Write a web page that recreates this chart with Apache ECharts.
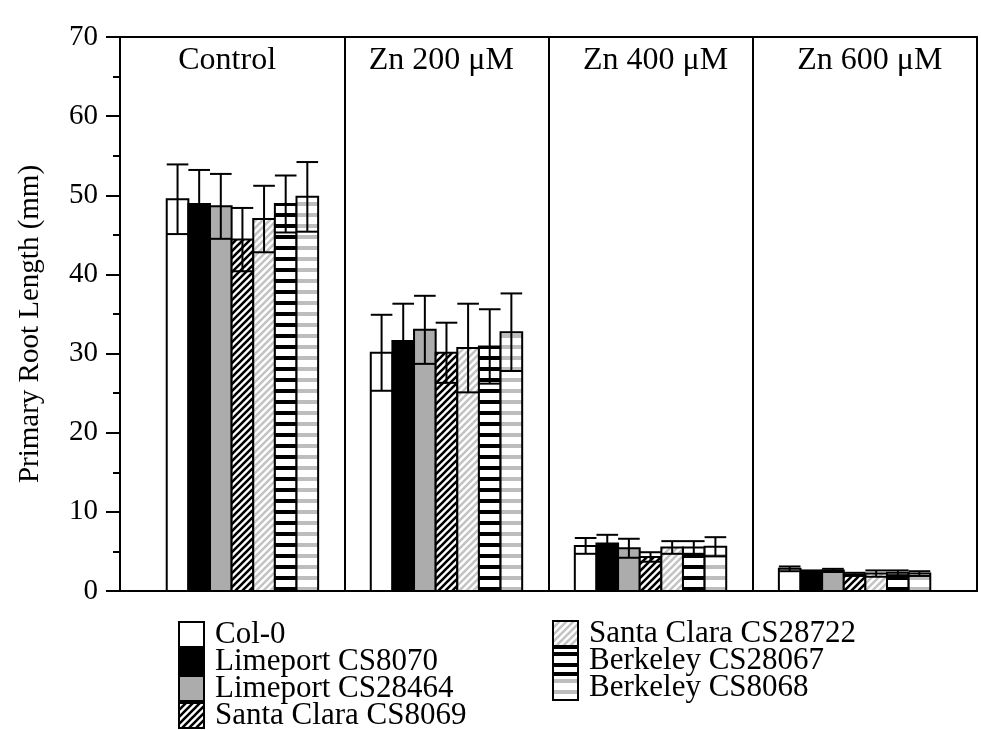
<!DOCTYPE html>
<html>
<head>
<meta charset="utf-8">
<script src="https://cdn.jsdelivr.net/npm/echarts@6/dist/echarts.min.js"></script>
<style>
html,body{margin:0;padding:0;background:#fff;}
#c{width:981px;height:730px;}
</style>
</head>
<body>
<div id="c"></div>
<script>
// ---- data ----
const categories = ['Control', 'Zn 200 μM', 'Zn 400 μM', 'Zn 600 μM'];
const seriesNames = ['Col-0', 'Limeport CS8070', 'Limeport CS28464', 'Santa Clara CS8069',
                     'Santa Clara CS28722', 'Berkeley CS28067', 'Berkeley CS8068'];
const col0      = [49.5, 30.1, 5.7, 2.8];
const col0Err   = [4.4, 4.8, 1.0, 0.3];
const lim8070   = [48.9, 31.6, 6.0, 2.4];
const lim8070Err= [4.3, 4.7, 1.1, 0.2];
const lim28464  = [48.6, 33.0, 5.4, 2.6];
const lim28464Err=[4.1, 4.3, 1.2, 0.2];
const sc8069    = [44.4, 30.1, 4.3, 2.1];
const sc8069Err = [4.0, 3.8, 0.6, 0.2];
const sc28722   = [47.0, 30.7, 5.5, 2.2];
const sc28722Err= [4.2, 5.6, 0.8, 0.4];
const bk28067   = [48.9, 30.9, 5.5, 2.3];
const bk28067Err= [3.6, 4.7, 0.8, 0.3];
const bk8068    = [49.8, 32.7, 5.6, 2.2];
const bk8068Err = [4.4, 4.9, 1.2, 0.3];
const separators = [0.5, 1.5, 2.5];

const means = [col0, lim8070, lim28464, sc8069, sc28722, bk28067, bk8068];
const errs  = [col0Err, lim8070Err, lim28464Err, sc8069Err, sc28722Err, bk28067Err, bk8068Err];

// ---- patterns ----
function diag(color) {
  const p = 7, c = document.createElement('canvas');
  c.width = p; c.height = p;
  const g = c.getContext('2d');
  g.fillStyle = '#fff'; g.fillRect(0, 0, p, p);
  g.strokeStyle = color; g.lineWidth = 2.6;
  g.beginPath();
  g.moveTo(-p, 2 * p); g.lineTo(2 * p, -p);
  g.moveTo(-2 * p, 2 * p); g.lineTo(p, -p);
  g.moveTo(0, 2 * p); g.lineTo(3 * p, -p);
  g.stroke();
  return { image: c, repeat: 'repeat' };
}
function horiz(color) {
  const p = 11, c = document.createElement('canvas');
  c.width = p; c.height = p;
  const g = c.getContext('2d');
  g.fillStyle = '#fff'; g.fillRect(0, 0, p, p);
  g.fillStyle = color; g.fillRect(0, 4, p, 4);
  return { image: c, repeat: 'repeat' };
}
const fills = ['#ffffff', '#000000', '#acacac', diag('#000'), diag('#c4c4c4'), horiz('#000'), horiz('#bdbdbd')];

const FONT = 'Liberation Serif';
const BAR_FRAC = 0.106;

function renderItem(params, api) {
  const g = api.value(0), v = api.value(1), e = api.value(2);
  const s = params.seriesIndex;
  const band = api.size([1, 0])[0];
  const bw = band * BAR_FRAC;
  const top = api.coord([g, v]);
  const base = api.coord([g, 0]);
  const hi = api.coord([g, v + e]);
  const lo = api.coord([g, v - e]);
  const x0 = top[0] + (s - 3) * bw - bw / 2;
  const xm = x0 + bw / 2;
  const ls = { stroke: '#000', lineWidth: 2 };
  return {
    type: 'group',
    children: [
      { type: 'rect', shape: { x: x0, y: top[1], width: bw, height: base[1] - top[1] },
        style: { fill: fills[s], stroke: '#000', lineWidth: 2 } },
      { type: 'line', shape: { x1: xm, y1: lo[1], x2: xm, y2: hi[1] }, style: ls },
      { type: 'line', shape: { x1: x0, y1: hi[1], x2: x0 + bw, y2: hi[1] }, style: ls },
      { type: 'line', shape: { x1: x0, y1: lo[1], x2: x0 + bw, y2: lo[1] }, style: ls }
    ]
  };
}

const series = seriesNames.map((name, s) => {
  const o = {
    name: name,
    type: 'custom',
    xAxisIndex: 0, yAxisIndex: 0,
    renderItem: renderItem,
    itemStyle: { color: fills[s], borderColor: '#000', borderWidth: 2 },
    data: categories.map((c, i) => [i, means[s][i], errs[s][i]]),
    silent: true
  };
  if (s === 0) {
    o.markLine = {
      silent: true, symbol: ['none', 'none'],
      label: { show: false },
      lineStyle: { color: '#000', width: 2, type: 'solid' },
      data: separators.map(x => ({ xAxis: x }))
    };
  }
  return o;
});

function legendData(names, offset) {
  return names.map((n, i) => ({
    name: n,
    itemStyle: { color: fills[i + offset], borderColor: '#000', borderWidth: 2 }
  }));
}
const legendCommon = {
  orient: 'vertical', itemGap: -4, itemWidth: 25, itemHeight: 25, icon: 'rect',
  selectedMode: false, padding: 0, height: 200,
  textStyle: { fontFamily: FONT, fontSize: 31, color: '#000', padding: [0, 0, 0, 6] }
};

const chart = echarts.init(document.getElementById('c'), null, { renderer: 'canvas' });
chart.setOption({
  animation: false,
  backgroundColor: '#fff',
  grid: { left: 120, right: 4, top: 37, bottom: 139 },
  legend: [
    Object.assign({ left: 178, top: 619, data: legendData(seriesNames.slice(0, 4), 0) }, legendCommon),
    Object.assign({ left: 552, top: 618, data: legendData(seriesNames.slice(4), 4) }, legendCommon)
  ],
  xAxis: [
    { type: 'value', min: -0.6, max: 3.6, position: 'bottom',
      axisLine: { show: true, onZero: false, lineStyle: { color: '#000', width: 2 } },
      axisTick: { show: false }, axisLabel: { show: false }, splitLine: { show: false } },
    { type: 'category', data: categories, position: 'top',
      axisLine: { show: true, onZero: false, lineStyle: { color: '#000', width: 2 } },
      axisTick: { show: false }, splitLine: { show: false },
      axisLabel: { inside: true, margin: 8, fontFamily: FONT, fontSize: 32, color: '#000' } }
  ],
  yAxis: [
    { type: 'value', min: 0, max: 70, interval: 10, position: 'left',
      name: 'Primary Root Length (mm)', nameLocation: 'middle', nameGap: 75,
      nameTextStyle: { fontFamily: FONT, fontSize: 29, color: '#000', padding: [0, 20, 0, 0] },
      axisLine: { show: true, onZero: false, lineStyle: { color: '#000', width: 2 } },
      axisTick: { show: true, length: 14, lineStyle: { color: '#000', width: 2 } },
      minorTick: { show: true, splitNumber: 2, length: 7, lineStyle: { color: '#000', width: 2 } },
      axisLabel: { margin: 22, fontFamily: FONT, fontSize: 29, color: '#000' },
      splitLine: { show: false } },
    { type: 'value', min: 0, max: 70, position: 'right',
      axisLine: { show: true, onZero: false, lineStyle: { color: '#000', width: 2 } },
      axisTick: { show: false }, axisLabel: { show: false }, splitLine: { show: false } }
  ],
  series: series
});
</script>
</body>
</html>
